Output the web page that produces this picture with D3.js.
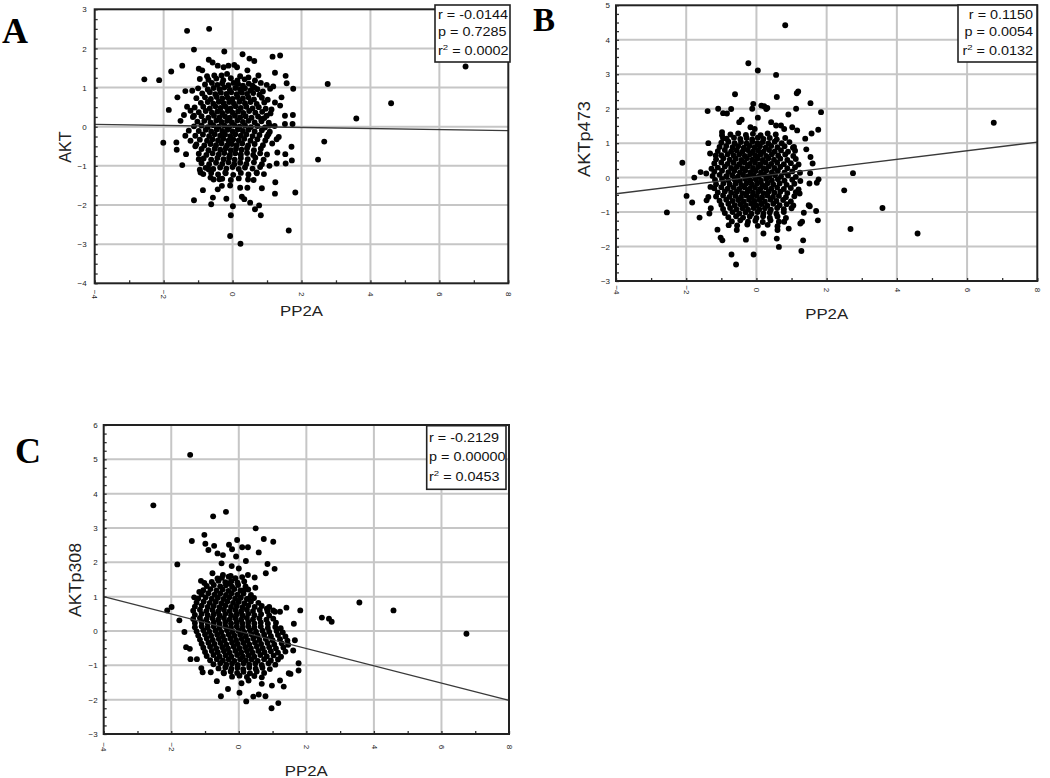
<!DOCTYPE html>
<html><head><meta charset="utf-8">
<script src="https://cdn.jsdelivr.net/npm/d3@7"></script>
<style>body{margin:0;background:#fff}svg{display:block}</style>
</head><body>
<svg id="chart" width="1050" height="778"></svg>
<script>
// ---------------- DATA ----------------
const xTicks = [-4, -2, 0, 2, 4, 6, 8];
const yTicksA = [-4, -3, -2, -1, 0, 1, 2, 3];
const yTicksB = [-3, -2, -1, 0, 1, 2, 3, 4, 5];
const yTicksC = [-3, -2, -1, 0, 1, 2, 3, 4, 5, 6];
const xLabel = "PP2A";
const yLabels = ["AKT", "AKTp473", "AKTp308"];
const statsA = ["r = -0.0144", "p = 0.7285", "0.0002"];
const statsB = ["r = 0.1150", "p = 0.0054", "0.0132"];
const statsC = ["r = -0.2129", "p = 0.00000", "0.0453"];
// fitted line: y at x=-4 and at x=8
const fitA = [0.06, -0.10];
const fitB = [-0.47, 1.03];
const fitC = [1.00, -2.02];

const pointsA = [
[-2.56,1.21],[-2.13,1.19],[-1.32,2.45],[-0.68,2.50],[-1.12,1.97],[-1.78,1.41],[-1.46,1.56],[-2.01,-0.41],[-1.85,0.43],[-1.46,-0.98],[-1.60,0.75],[2.76,1.09],[4.60,0.60],[3.59,0.21],[6.76,1.54],[2.66,-0.38],[2.48,-0.84],[1.63,-2.65],[1.82,-1.68],[-0.07,-2.79],[0.23,-2.99],[-0.05,-2.26],[-1.12,-1.88],[-0.62,-1.98],[-0.86,-1.62],[0.82,-2.26],[1.38,1.82],[1.16,1.79],[0.29,1.85],[-0.24,1.92],[1.23,1.38],[1.54,1.30],[1.57,1.11],[1.76,0.97],[1.75,0.30],[1.74,0.07],[1.71,-0.51],[1.72,-0.86],[1.23,-1.71],[1.24,-1.42],[1.34,-0.26],[1.52,0.07],[1.18,1.03],[0.75,1.31],[0.63,1.68],[0.49,1.74],
[-0.69,1.71],[-0.58,1.64],[-0.43,1.56],[-0.26,1.52],[-0.12,1.56],[0.05,1.58],[0.13,1.52],[-0.98,1.48],[-0.88,1.44],[-0.95,1.22],[-0.74,1.29],[-0.53,1.31],[-0.32,1.31],[-0.16,1.35],[0.22,1.29],[0.43,1.44],[0.46,1.26],[0.65,1.18],[0.82,1.12],[0.99,1.07],[1.09,0.97],[-1.37,0.91],[-1.17,0.92],[-1.63,-0.40],[-1.62,-0.59],[-1.35,-0.70],[-1.41,0.30],[-1.51,0.15],[-1.32,0.51],[-1.22,0.41],[-1.12,0.28],[-1.27,-0.10],[-1.37,-0.23],[-1.22,-0.36],[-1.08,-0.50],[-0.98,-0.83],[-0.95,-1.10],[-0.93,-1.17],[-0.69,-1.09],[-0.64,-1.30],[-0.57,-1.81],[-0.43,-1.60],[-0.31,-1.51],[-0.38,-1.34],[-0.21,-1.17],[-0.07,-1.50],[-0.18,-1.84],[0.01,-2.03],[0.22,-1.56],[0.27,-1.79],[0.34,-1.85],[0.51,-1.94],[0.65,-2.11],[0.77,-2.01],[0.43,-1.56],[0.85,-1.57],[0.61,-1.36],[0.70,-1.17],[0.91,-1.21],[1.07,-1.00],[1.28,-0.94],[1.54,-0.94],[1.53,-0.70],[1.30,-0.66],[1.28,-0.32],[1.04,-0.19],[1.52,0.28],[1.38,0.54],[1.42,0.75],[1.23,0.62],[1.13,0.44],[0.99,0.28],[1.07,0.03],[0.83,0.20],
[-0.70,1.20],[-0.47,1.23],[-0.27,1.19],[-0.05,1.24],[0.14,1.18],[0.35,1.21],[0.58,1.05],
[-0.80,1.08],[-0.60,1.12],[-0.44,1.07],[-0.30,1.11],[-0.12,1.06],[0.03,1.12],[0.16,1.09],[0.30,1.05],[0.47,1.10],[0.64,1.00],
[-1.00,0.98],[-0.72,0.95],[-0.55,0.99],[-0.38,0.96],[-0.24,1.00],[-0.08,0.94],[0.08,0.99],[0.22,0.95],[0.36,0.98],[0.52,0.93],[0.72,0.96],[0.88,0.90],
[-0.88,0.85],[-0.66,0.88],[-0.50,0.83],[-0.34,0.87],[-0.18,0.84],[-0.04,0.88],[0.12,0.83],[0.27,0.87],[0.42,0.84],[0.60,0.86],[0.78,0.82],
[-1.05,0.73],[-0.80,0.75],[-0.63,0.71],[-0.46,0.76],[-0.30,0.72],[-0.15,0.75],[0.00,0.71],[0.14,0.76],[0.30,0.72],[0.46,0.75],[0.62,0.70],[0.85,0.74],[1.02,0.69],
[-0.92,0.61],[-0.72,0.63],[-0.56,0.59],[-0.40,0.64],[-0.26,0.60],[-0.10,0.63],[0.04,0.59],[0.20,0.64],[0.36,0.60],[0.52,0.63],[0.70,0.58],[0.92,0.62],
[-1.10,0.49],[-0.85,0.51],[-0.66,0.47],[-0.50,0.52],[-0.35,0.48],[-0.20,0.51],[-0.06,0.47],[0.09,0.52],[0.24,0.48],[0.40,0.51],[0.58,0.47],[0.76,0.50],[0.96,0.46],
[-0.98,0.37],[-0.78,0.40],[-0.60,0.36],[-0.44,0.39],[-0.30,0.35],[-0.14,0.40],[0.00,0.36],[0.16,0.39],[0.31,0.35],[0.48,0.40],[0.66,0.36],[0.86,0.38],[1.10,0.34],
[-1.15,0.25],[-0.90,0.27],[-0.70,0.23],[-0.54,0.28],[-0.38,0.24],[-0.22,0.27],[-0.08,0.23],[0.07,0.28],[0.22,0.24],[0.38,0.27],[0.55,0.23],[0.74,0.26],[0.92,0.22],
[-1.02,0.13],[-0.82,0.15],[-0.64,0.11],[-0.47,0.16],[-0.32,0.12],[-0.16,0.15],[-0.02,0.11],[0.14,0.16],[0.30,0.12],[0.46,0.15],[0.64,0.11],[0.84,0.14],[1.05,0.10],
[-1.12,0.01],[-0.90,0.03],[-0.72,-0.01],[-0.56,0.04],[-0.40,0.00],[-0.24,0.03],[-0.10,-0.01],[0.05,0.04],[0.20,0.00],[0.36,0.03],[0.53,-0.01],[0.72,0.02],[0.94,-0.02],[1.22,0.02],
[-0.98,-0.11],[-0.78,-0.08],[-0.62,-0.12],[-0.46,-0.07],[-0.30,-0.11],[-0.15,-0.08],[0.00,-0.12],[0.15,-0.07],[0.30,-0.11],[0.46,-0.08],[0.64,-0.12],[0.85,-0.09],[1.08,-0.13],
[-1.08,-0.23],[-0.86,-0.20],[-0.68,-0.24],[-0.52,-0.19],[-0.36,-0.23],[-0.22,-0.20],[-0.07,-0.24],[0.08,-0.19],[0.24,-0.23],[0.40,-0.20],[0.58,-0.24],[0.78,-0.21],[1.00,-0.25],
[-0.95,-0.33],[-0.74,-0.36],[-0.58,-0.32],[-0.42,-0.35],[-0.27,-0.31],[-0.12,-0.36],[0.02,-0.32],[0.18,-0.35],[0.34,-0.31],[0.52,-0.36],[0.72,-0.32],[0.95,-0.35],
[-1.05,-0.45],[-0.82,-0.48],[-0.64,-0.44],[-0.48,-0.47],[-0.32,-0.43],[-0.16,-0.48],[-0.02,-0.44],[0.12,-0.47],[0.28,-0.43],[0.45,-0.48],[0.64,-0.44],[0.88,-0.47],[1.15,-0.43],
[-0.90,-0.57],[-0.70,-0.60],[-0.52,-0.56],[-0.36,-0.59],[-0.20,-0.55],[-0.05,-0.60],[0.10,-0.56],[0.26,-0.59],[0.42,-0.55],[0.62,-0.60],[0.82,-0.56],
[-0.98,-0.69],[-0.76,-0.72],[-0.58,-0.68],[-0.40,-0.71],[-0.24,-0.67],[-0.08,-0.72],[0.08,-0.68],[0.24,-0.71],[0.42,-0.67],[0.60,-0.72],[0.80,-0.68],[1.00,-0.71],
[-0.84,-0.81],[-0.62,-0.84],[-0.44,-0.80],[-0.26,-0.83],[-0.10,-0.79],[0.06,-0.84],[0.24,-0.80],[0.44,-0.83],[0.66,-0.79],[0.90,-0.84],
[-0.90,-0.93],[-0.68,-0.96],[-0.48,-0.92],[-0.30,-0.95],[-0.12,-0.91],[0.05,-0.96],[0.22,-0.92],[0.40,-0.95],[0.62,-0.91],[0.85,-0.96],
[-0.78,-1.05],[-0.56,-1.08],[-0.36,-1.04],[-0.18,-1.07],[0.00,-1.03],[0.18,-1.08],[0.36,-1.04],[0.58,-1.07],[0.80,-1.03],
[-0.85,-1.21],[-0.62,-1.18],[-0.42,-1.22],[-0.20,-1.19],[0.02,-1.23],[0.24,-1.18],[0.46,-1.22],[0.70,-1.19],
[-0.55,-1.35],[-0.30,-1.33],[-0.05,-1.36],[0.18,-1.32],[0.45,-1.35]
];

const pointsB = [
[0.82,4.42],[-0.23,3.32],[0.04,3.11],[0.56,2.98],[-0.61,2.42],[0.58,2.34],[1.19,2.50],[1.15,2.45],[1.54,2.16],[1.84,1.90],[1.13,2.00],[0.91,1.83],[-1.39,1.93],[-1.09,2.00],[-0.95,1.87],[-0.84,1.86],[-0.72,1.99],[-0.09,2.14],[-0.12,2.00],[0.04,1.74],[0.22,2.07],[0.31,2.02],[-2.11,0.43],[-2.55,-1.01],[-1.99,-0.53],[-1.83,-0.72],[-1.77,0.00],[-1.62,-1.16],[-1.59,0.16],[2.75,0.13],[2.50,-0.37],[2.68,-1.49],[3.59,-0.88],[4.59,-1.62],[6.76,1.59],[-0.71,-2.23],[-0.58,-2.52],[-0.08,-2.23],[-0.30,-1.80],[0.64,-2.01],[1.28,-2.13],[1.33,-1.82],[-0.97,-1.82],[-1.02,-1.74],[-1.11,-1.51],[0.58,-1.77],[0.92,-1.48],[1.75,-1.24],[1.70,-0.97],[1.52,-0.83],[1.35,-1.02],[1.25,-1.33],[1.77,-0.05],[1.60,0.41],[1.54,0.60],[1.76,1.39],[1.57,1.28],[1.39,1.13],[-1.37,1.00],[-1.32,0.70],[-1.43,0.12],[-1.31,-0.27],[-1.42,-0.66],[-1.34,-1.04],[-0.98,1.23],[1.07,0.89],
[0.14,2.09],[0.28,1.99],[-0.42,1.68],[-0.49,1.61],[-0.17,1.46],[-0.05,1.41],[0.42,1.61],[0.56,1.51],[0.70,1.51],[0.79,1.41],[1.02,1.46],[1.16,1.37],[1.42,0.82],[1.53,0.13],[1.72,-0.15],[1.51,-0.17],[1.23,-0.46],[1.49,-0.80],[1.30,-1.28],[0.60,-1.52],[0.79,-1.28],[-0.56,-1.52],[-0.79,-1.38],[0.20,-1.62],[-1.37,-0.56],[-1.30,-0.89],[-1.28,0.26],[-1.16,0.64],[-0.98,1.32],[-0.95,1.14],
[-0.74,1.25],[-0.52,1.28],[-0.30,1.24],[-0.10,1.27],[0.12,1.23],[0.32,1.28],[0.55,1.25],
[-0.85,1.13],[-0.64,1.16],[-0.46,1.12],[-0.28,1.15],[-0.12,1.11],[0.04,1.16],[0.20,1.12],[0.38,1.15],[0.58,1.11],[0.82,1.15],
[-1.00,1.01],[-0.80,1.04],[-0.62,1.00],[-0.44,1.03],[-0.28,0.99],[-0.12,1.04],[0.03,1.00],[0.18,1.03],[0.34,0.99],[0.52,1.04],[0.72,1.00],[0.94,1.03],
[-1.05,0.89],[-0.86,0.92],[-0.68,0.88],[-0.52,0.91],[-0.36,0.87],[-0.20,0.92],[-0.05,0.88],[0.10,0.91],[0.26,0.87],[0.42,0.92],[0.60,0.88],[0.80,0.91],[1.04,0.87],
[-1.10,0.77],[-0.90,0.80],[-0.72,0.76],[-0.56,0.79],[-0.40,0.75],[-0.25,0.80],[-0.10,0.76],[0.05,0.79],[0.20,0.75],[0.36,0.80],[0.52,0.76],[0.70,0.79],[0.90,0.75],[1.10,0.78],
[-1.00,0.65],[-0.82,0.68],[-0.65,0.64],[-0.49,0.67],[-0.33,0.63],[-0.18,0.68],[-0.03,0.64],[0.12,0.67],[0.28,0.63],[0.44,0.68],[0.62,0.64],[0.82,0.67],[1.05,0.63],
[-1.15,0.53],[-0.94,0.56],[-0.76,0.52],[-0.59,0.55],[-0.43,0.51],[-0.27,0.56],[-0.12,0.52],[0.03,0.55],[0.18,0.51],[0.34,0.56],[0.50,0.52],[0.68,0.55],[0.88,0.51],[1.12,0.54],
[-1.20,0.41],[-1.00,0.44],[-0.82,0.40],[-0.65,0.43],[-0.49,0.39],[-0.34,0.44],[-0.19,0.40],[-0.04,0.43],[0.11,0.39],[0.26,0.44],[0.42,0.40],[0.59,0.43],[0.78,0.39],[0.98,0.42],[1.20,0.38],
[-1.10,0.29],[-0.90,0.32],[-0.72,0.28],[-0.56,0.31],[-0.40,0.27],[-0.25,0.32],[-0.10,0.28],[0.05,0.31],[0.20,0.27],[0.35,0.32],[0.51,0.28],[0.68,0.31],[0.88,0.27],[1.10,0.30],
[-1.20,0.17],[-0.98,0.20],[-0.80,0.16],[-0.63,0.19],[-0.47,0.15],[-0.32,0.20],[-0.17,0.16],[-0.02,0.19],[0.13,0.15],[0.28,0.20],[0.44,0.16],[0.61,0.19],[0.80,0.15],[1.02,0.18],[1.24,0.14],
[-1.25,0.05],[-1.05,0.08],[-0.86,0.04],[-0.69,0.07],[-0.53,0.03],[-0.38,0.08],[-0.23,0.04],[-0.08,0.07],[0.07,0.03],[0.22,0.08],[0.37,0.04],[0.53,0.07],[0.70,0.03],[0.90,0.06],[1.12,0.02],
[-1.18,-0.07],[-0.98,-0.04],[-0.80,-0.08],[-0.63,-0.05],[-0.47,-0.09],[-0.32,-0.04],[-0.17,-0.08],[-0.02,-0.05],[0.13,-0.09],[0.28,-0.04],[0.44,-0.08],[0.61,-0.05],[0.80,-0.09],[1.02,-0.06],[1.25,-0.10],
[-1.15,-0.19],[-0.94,-0.16],[-0.76,-0.20],[-0.59,-0.17],[-0.43,-0.21],[-0.28,-0.16],[-0.13,-0.20],[0.02,-0.17],[0.17,-0.21],[0.32,-0.16],[0.48,-0.20],[0.66,-0.17],[0.86,-0.21],[1.08,-0.18],
[-1.20,-0.31],[-1.00,-0.28],[-0.82,-0.32],[-0.65,-0.29],[-0.49,-0.33],[-0.34,-0.28],[-0.19,-0.32],[-0.04,-0.29],[0.11,-0.33],[0.26,-0.28],[0.42,-0.32],[0.59,-0.29],[0.78,-0.33],[0.98,-0.30],[1.20,-0.34],
[-1.10,-0.43],[-0.90,-0.40],[-0.72,-0.44],[-0.56,-0.41],[-0.40,-0.45],[-0.25,-0.40],[-0.10,-0.44],[0.05,-0.41],[0.20,-0.45],[0.35,-0.40],[0.51,-0.44],[0.68,-0.41],[0.88,-0.45],[1.12,-0.42],
[-1.15,-0.55],[-0.95,-0.52],[-0.77,-0.56],[-0.60,-0.53],[-0.44,-0.57],[-0.29,-0.52],[-0.14,-0.56],[0.01,-0.53],[0.16,-0.57],[0.31,-0.52],[0.47,-0.56],[0.64,-0.53],[0.84,-0.57],[1.08,-0.54],
[-1.05,-0.67],[-0.86,-0.64],[-0.68,-0.68],[-0.52,-0.65],[-0.36,-0.69],[-0.21,-0.64],[-0.06,-0.68],[0.09,-0.65],[0.24,-0.69],[0.40,-0.64],[0.57,-0.68],[0.76,-0.65],[0.98,-0.69],
[-1.00,-0.79],[-0.80,-0.76],[-0.62,-0.80],[-0.46,-0.77],[-0.30,-0.81],[-0.15,-0.76],[0.00,-0.80],[0.15,-0.77],[0.31,-0.81],[0.48,-0.76],[0.66,-0.80],[0.86,-0.77],[1.05,-0.81],
[-0.95,-0.91],[-0.75,-0.88],[-0.57,-0.92],[-0.40,-0.89],[-0.24,-0.93],[-0.08,-0.88],[0.08,-0.92],[0.24,-0.89],[0.41,-0.93],[0.59,-0.88],[0.78,-0.92],[1.00,-0.89],
[-0.90,-1.03],[-0.68,-1.00],[-0.49,-1.04],[-0.31,-1.01],[-0.14,-1.05],[0.03,-1.00],[0.20,-1.04],[0.38,-1.01],[0.57,-1.05],[0.78,-1.00],
[-0.80,-1.15],[-0.58,-1.12],[-0.38,-1.16],[-0.19,-1.13],[0.00,-1.17],[0.19,-1.12],[0.38,-1.16],[0.60,-1.13],[0.84,-1.17],
[-0.70,-1.27],[-0.46,-1.24],[-0.24,-1.28],[-0.03,-1.25],[0.18,-1.29],[0.40,-1.24],[0.64,-1.28],
[-0.55,-1.39],[-0.26,-1.36],[0.04,-1.40],[0.32,-1.37],[0.60,-1.41]
];

const pointsC = [
[-1.44,5.13],[-2.53,3.66],[-0.38,3.47],[-0.76,3.34],[0.50,2.99],[-1.39,2.62],[0.74,2.68],[1.02,2.60],[-1.82,1.94],[1.06,1.81],[0.85,1.95],[0.80,1.68],[-1.02,2.80],[-1.99,0.70],[-2.12,0.60],[-1.76,0.31],[-1.61,-0.03],[-1.45,-0.52],[-1.43,-0.82],[-1.24,-0.82],[-1.11,-1.08],[-0.65,-1.46],[-0.53,-1.90],[0.02,-1.80],[0.22,-2.05],[0.97,-2.25],[1.17,-2.10],[0.43,-1.91],[0.59,-1.85],[0.79,-1.90],[1.33,-1.62],[1.53,-1.25],[1.77,-1.15],[1.77,-0.94],[1.82,0.60],[2.46,0.39],[2.67,0.36],[2.75,0.27],[3.57,0.83],[4.58,0.60],[6.74,-0.08],[1.41,0.68],[1.63,0.21],[1.66,-0.27],[1.61,-0.57],[1.22,0.56],[1.02,0.60],[0.90,0.70],
[-0.99,2.54],[-0.90,2.36],[-0.73,2.48],[-0.63,2.26],[-0.47,2.21],[-0.29,2.51],[-0.20,2.38],[-0.05,2.65],[0.10,2.44],[0.27,2.44],[-0.08,2.17],[0.21,2.04],[0.00,1.82],[-0.21,1.89],[-0.51,1.97],[0.59,2.29],[0.47,1.56],[0.27,1.63],[0.49,1.26],[-0.78,1.68],[-1.12,1.46],[-1.02,1.40],[-1.17,1.14],[-1.32,0.98],[-0.63,1.53],[-0.47,1.63],[-0.24,1.60],[-0.29,1.39],[0.15,1.19],[0.29,0.95],[0.83,0.65],[1.07,0.56],
[-1.56,-0.47],[-0.32,-1.69],[1.48,-1.23],[1.22,-1.44],[0.98,-1.59],[0.68,-1.54],[0.29,-1.44],[0.08,-1.52],[-0.44,-1.23],[-0.83,-1.20],[-1.07,-1.20],
[-0.50,1.55],[-0.30,1.58],[-0.10,1.54],[0.10,1.57],
[-0.80,1.43],[-0.60,1.46],[-0.40,1.42],[-0.22,1.45],[-0.04,1.41],[0.16,1.44],
[-0.95,1.31],[-0.74,1.34],[-0.55,1.30],[-0.38,1.33],[-0.20,1.29],[-0.02,1.34],[0.20,1.30],
[-1.05,1.19],[-0.84,1.22],[-0.66,1.18],[-0.48,1.21],[-0.31,1.17],[-0.13,1.22],[0.05,1.18],[0.28,1.21],
[-1.10,1.07],[-0.90,1.10],[-0.72,1.06],[-0.55,1.09],[-0.38,1.05],[-0.21,1.10],[-0.04,1.06],[0.14,1.09],[0.36,1.05],
[-1.20,0.95],[-0.98,0.98],[-0.80,0.94],[-0.62,0.97],[-0.45,0.93],[-0.28,0.98],[-0.11,0.94],[0.06,0.97],[0.24,0.93],[0.45,0.96],
[-1.25,0.83],[-1.04,0.86],[-0.86,0.82],[-0.68,0.85],[-0.51,0.81],[-0.34,0.86],[-0.17,0.82],[0.00,0.85],[0.17,0.81],[0.36,0.86],[0.58,0.82],
[-1.30,0.71],[-1.10,0.74],[-0.92,0.70],[-0.74,0.73],[-0.57,0.69],[-0.40,0.74],[-0.23,0.70],[-0.06,0.73],[0.11,0.69],[0.28,0.74],[0.47,0.70],[0.68,0.73],
[-1.35,0.59],[-1.15,0.62],[-0.96,0.58],[-0.78,0.61],[-0.61,0.57],[-0.44,0.62],[-0.27,0.58],[-0.10,0.61],[0.07,0.57],[0.24,0.62],[0.42,0.58],[0.62,0.61],[0.85,0.57],
[-1.30,0.47],[-1.10,0.50],[-0.92,0.46],[-0.74,0.49],[-0.57,0.45],[-0.40,0.50],[-0.23,0.46],[-0.06,0.49],[0.11,0.45],[0.28,0.50],[0.46,0.46],[0.66,0.49],[0.90,0.45],
[-1.35,0.35],[-1.15,0.38],[-0.96,0.34],[-0.78,0.37],[-0.61,0.33],[-0.44,0.38],[-0.27,0.34],[-0.10,0.37],[0.07,0.33],[0.24,0.38],[0.42,0.34],[0.61,0.37],[0.82,0.33],[1.02,0.36],
[-1.30,0.23],[-1.10,0.26],[-0.92,0.22],[-0.74,0.25],[-0.57,0.21],[-0.40,0.26],[-0.23,0.22],[-0.06,0.25],[0.11,0.21],[0.28,0.26],[0.46,0.22],[0.65,0.25],[0.86,0.21],[1.10,0.24],
[-1.30,0.11],[-1.10,0.14],[-0.92,0.10],[-0.74,0.13],[-0.57,0.09],[-0.40,0.14],[-0.23,0.10],[-0.06,0.13],[0.11,0.09],[0.28,0.14],[0.46,0.10],[0.65,0.13],[0.86,0.09],[1.08,0.12],[1.24,0.08],
[-1.25,-0.01],[-1.05,0.02],[-0.87,-0.02],[-0.69,0.01],[-0.52,-0.03],[-0.35,0.02],[-0.18,-0.02],[-0.01,0.01],[0.16,-0.03],[0.33,0.02],[0.51,-0.02],[0.70,0.01],[0.90,-0.03],[1.12,0.00],[1.30,-0.04],
[-1.20,-0.13],[-1.00,-0.10],[-0.82,-0.14],[-0.64,-0.11],[-0.47,-0.15],[-0.30,-0.10],[-0.13,-0.14],[0.04,-0.11],[0.21,-0.15],[0.38,-0.10],[0.56,-0.14],[0.75,-0.11],[0.95,-0.15],[1.16,-0.12],[1.38,-0.16],
[-1.15,-0.25],[-0.95,-0.22],[-0.77,-0.26],[-0.59,-0.23],[-0.42,-0.27],[-0.25,-0.22],[-0.08,-0.26],[0.09,-0.23],[0.26,-0.27],[0.43,-0.22],[0.61,-0.26],[0.80,-0.23],[1.00,-0.27],[1.22,-0.24],[1.44,-0.28],
[-1.10,-0.37],[-0.90,-0.34],[-0.72,-0.38],[-0.54,-0.35],[-0.37,-0.39],[-0.20,-0.34],[-0.03,-0.38],[0.14,-0.35],[0.31,-0.39],[0.48,-0.34],[0.66,-0.38],[0.85,-0.35],[1.05,-0.39],[1.27,-0.36],[1.46,-0.40],
[-1.05,-0.49],[-0.85,-0.46],[-0.67,-0.50],[-0.49,-0.47],[-0.32,-0.51],[-0.15,-0.46],[0.02,-0.50],[0.19,-0.47],[0.36,-0.51],[0.53,-0.46],[0.71,-0.50],[0.90,-0.47],[1.10,-0.51],[1.32,-0.48],
[-1.00,-0.61],[-0.80,-0.58],[-0.62,-0.62],[-0.44,-0.59],[-0.27,-0.63],[-0.10,-0.58],[0.07,-0.62],[0.24,-0.59],[0.41,-0.63],[0.58,-0.58],[0.76,-0.62],[0.95,-0.59],[1.16,-0.63],[1.38,-0.60],
[-0.95,-0.73],[-0.75,-0.70],[-0.57,-0.74],[-0.39,-0.71],[-0.22,-0.75],[-0.05,-0.70],[0.12,-0.74],[0.29,-0.71],[0.46,-0.75],[0.64,-0.70],[0.83,-0.74],[1.03,-0.71],[1.25,-0.75],
[-0.85,-0.85],[-0.65,-0.82],[-0.47,-0.86],[-0.30,-0.83],[-0.13,-0.87],[0.04,-0.82],[0.21,-0.86],[0.38,-0.83],[0.56,-0.87],[0.75,-0.82],[0.95,-0.86],[1.16,-0.83],
[-0.75,-0.97],[-0.55,-0.94],[-0.37,-0.98],[-0.20,-0.95],[-0.03,-0.99],[0.14,-0.94],[0.31,-0.98],[0.49,-0.95],[0.68,-0.99],[0.88,-0.94],[1.08,-0.98],
[-0.60,-1.09],[-0.40,-1.06],[-0.22,-1.10],[-0.04,-1.07],[0.13,-1.11],[0.31,-1.06],[0.50,-1.10],[0.70,-1.07],[0.92,-1.11],
[-0.45,-1.21],[-0.24,-1.18],[-0.05,-1.22],[0.14,-1.19],[0.33,-1.23],[0.53,-1.18],[0.75,-1.22],
[-0.20,-1.33],[0.02,-1.30],[0.24,-1.34],[0.46,-1.31],[0.68,-1.35]
];

// ---------------- LAYOUT ----------------
const panels = [
  { letter: "A", pts: pointsA, yTicks: yTicksA, stats: statsA, fit: fitA, yLabel: yLabels[0],
    box: { l: 94.7, r: 508.3, t: 9.3, b: 283.3 }, letterPos: [2, 43], letterSize: 36,
    leg: { x: 435, y: 5, w: 75, h: 57, anchor: "start", tx: 438, base: [19, 36, 55] },
    yLabPos: [71, 147], yLabScale: 1.16, xLabPos: [301.5, 316], xTickOff: 11, yTickPad: 8 },
  { letter: "B", pts: pointsB, yTicks: yTicksB, stats: statsB, fit: fitB, yLabel: yLabels[1],
    box: { l: 616, r: 1037.3, t: 5.3, b: 281 }, letterPos: [533, 31], letterSize: 33,
    leg: { x: 958, y: 5, w: 79, h: 57, anchor: "end", tx: 1033, base: [19, 36, 55] },
    yLabPos: [590, 139], yLabScale: 1.3, xLabPos: [826.7, 319], xTickOff: 9, yTickPad: 6 },
  { letter: "C", pts: pointsC, yTicks: yTicksC, stats: statsC, fit: fitC, yLabel: yLabels[2],
    box: { l: 103.7, r: 509, t: 425, b: 734 }, letterPos: [15, 463], letterSize: 36,
    leg: { x: 426.7, y: 425.7, w: 79.3, h: 63.6, anchor: "start", tx: 429, base: [442.3, 461, 481] },
    yLabPos: [81, 580], yLabScale: 1.27, xLabPos: [306.3, 776], xTickOff: 13, yTickPad: 6 }
];

const svg = d3.select("#chart");
const SANS = "'Liberation Sans', Arial, Helvetica, sans-serif";

panels.forEach(p => {
  const b = p.box;
  const x = d3.scaleLinear().domain([xTicks[0], xTicks[xTicks.length - 1]]).range([b.l, b.r]);
  const y = d3.scaleLinear().domain([p.yTicks[0], p.yTicks[p.yTicks.length - 1]]).range([b.b, b.t]);
  const g = svg.append("g");

  // grid
  g.append("g").selectAll("line").data(xTicks.slice(1, -1)).join("line")
    .attr("x1", d => x(d)).attr("x2", d => x(d)).attr("y1", b.t).attr("y2", b.b)
    .attr("stroke", "#c6c6c6").attr("stroke-width", 2);
  g.append("g").selectAll("line").data(p.yTicks.slice(1, -1)).join("line")
    .attr("x1", b.l).attr("x2", b.r).attr("y1", d => y(d)).attr("y2", d => y(d))
    .attr("stroke", "#c6c6c6").attr("stroke-width", 2);

  // minor ticks (inward)
  const xMinor = d3.range(xTicks[0], xTicks[xTicks.length - 1] + 0.001, 1);
  const yMinor = d3.range(p.yTicks[0], p.yTicks[p.yTicks.length - 1] + 0.001, 0.25);
  g.append("g").attr("transform", `translate(0,${b.b})`)
    .call(d3.axisBottom(x).tickValues(xMinor).tickSize(-3).tickFormat(""))
    .call(a => a.select(".domain").remove())
    .call(a => a.selectAll("line").attr("stroke", "#333").attr("stroke-width", 1.3));
  g.append("g").attr("transform", `translate(${b.l},0)`)
    .call(d3.axisLeft(y).tickValues(yMinor).tickSize(-3).tickFormat(""))
    .call(a => a.select(".domain").remove())
    .call(a => a.selectAll("line").attr("stroke", "#333").attr("stroke-width", 1.3));

  // tick labels
  g.append("g").attr("transform", `translate(0,${b.b})`)
    .call(d3.axisBottom(x).tickValues(xTicks).tickSize(0).tickFormat(d3.format("d")))
    .call(a => a.select(".domain").remove())
    .call(a => a.selectAll("text")
      .attr("transform", "rotate(90)").attr("text-anchor", "middle")
      .attr("x", p.xTickOff).attr("y", 0).attr("dy", "0.35em")
      .attr("font-family", SANS).attr("font-size", 8).attr("fill", "#222"));
  g.append("g").attr("transform", `translate(${b.l},0)`)
    .call(d3.axisLeft(y).tickValues(p.yTicks).tickSize(0).tickPadding(p.yTickPad).tickFormat(d3.format("d")))
    .call(a => a.select(".domain").remove())
    .call(a => a.selectAll("text").attr("font-family", SANS).attr("font-size", 8).attr("fill", "#222"));

  // points
  g.append("g").selectAll("circle").data(p.pts).join("circle")
    .attr("cx", d => x(d[0])).attr("cy", d => y(d[1])).attr("r", 2.95).attr("fill", "#000");

  // regression line
  g.append("path").datum([[xTicks[0], p.fit[0]], [xTicks[xTicks.length - 1], p.fit[1]]])
    .attr("d", d3.line().x(d => x(d[0])).y(d => y(d[1])))
    .attr("stroke", "#3a3a3a").attr("stroke-width", 1.4).attr("fill", "none");

  // frame
  g.append("rect").attr("x", b.l).attr("y", b.t).attr("width", b.r - b.l).attr("height", b.b - b.t)
    .attr("fill", "none").attr("stroke", "#222").attr("stroke-width", 2);

  // legend
  const L = p.leg;
  g.append("rect").attr("x", L.x).attr("y", L.y).attr("width", L.w).attr("height", L.h)
    .attr("fill", "#fff").attr("stroke", "#222").attr("stroke-width", 1.6);
  L.base.forEach((by, i) => {
    const t = g.append("text").attr("transform", `translate(${L.tx},${by}) scale(1.2,1)`)
      .attr("text-anchor", L.anchor).attr("font-family", SANS).attr("font-size", 12).attr("fill", "#111");
    if (i < 2) t.text(p.stats[i]);
    else {
      t.append("tspan").text("r");
      t.append("tspan").attr("font-size", 8).attr("dy", -5).text("2");
      t.append("tspan").attr("dy", 5).text(" = " + p.stats[2]);
    }
  });

  // axis titles
  g.append("text").attr("transform", `translate(${p.xLabPos[0]},${p.xLabPos[1]}) scale(1.2,1)`)
    .attr("text-anchor", "middle").attr("font-family", SANS).attr("font-size", 14).attr("fill", "#222")
    .text(xLabel);
  g.append("text").attr("transform", `translate(${p.yLabPos[0]},${p.yLabPos[1]}) rotate(-90) scale(${p.yLabScale},1.2)`)
    .attr("text-anchor", "middle").attr("font-family", SANS).attr("font-size", 14).attr("fill", "#222")
    .text(p.yLabel);

  // panel letter
  svg.append("text").attr("x", p.letterPos[0]).attr("y", p.letterPos[1])
    .attr("font-family", "'Liberation Serif', 'Times New Roman', serif").attr("font-weight", "bold")
    .attr("font-size", p.letterSize).attr("fill", "#000").text(p.letter);
});
</script>
</body></html>
